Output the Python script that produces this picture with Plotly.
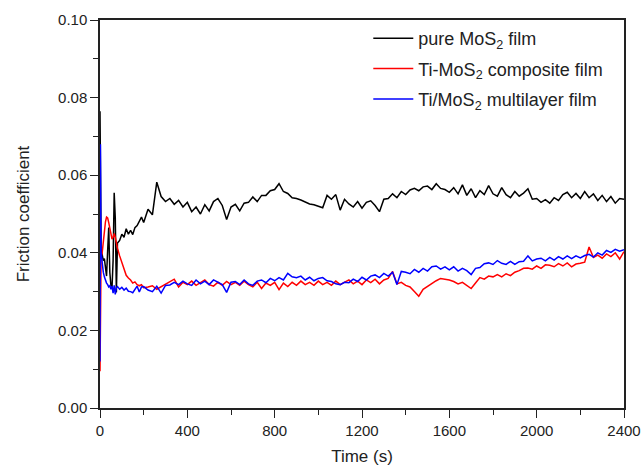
import plotly.graph_objects as go

time_s = [0, 2, 5, 10, 15, 20, 25, 30, 35, 40, 45, 50, 55, 60, 65, 70, 75, 80, 90, 100,
          110, 120, 130, 140, 150, 160, 170, 180, 190, 200,
          220, 240, 260, 280, 300, 320, 340, 360, 380, 400,
          420, 440, 460, 480, 500, 520, 540, 560, 580, 600,
          620, 640, 660, 680, 700, 720, 740, 760, 780, 800,
          820, 840, 860, 880, 900, 920, 940, 960, 980, 1000,
          1020, 1040, 1060, 1080, 1100, 1120, 1140, 1160, 1180, 1200,
          1220, 1240, 1260, 1280, 1300, 1320, 1340, 1360, 1380, 1400,
          1420, 1440, 1460, 1480, 1500, 1520, 1540, 1560, 1580, 1600,
          1620, 1640, 1660, 1680, 1700, 1720, 1740, 1760, 1780, 1800,
          1820, 1840, 1860, 1880, 1900, 1920, 1940, 1960, 1980, 2000,
          2020, 2040, 2060, 2080, 2100, 2120, 2140, 2160, 2180, 2200,
          2220, 2240, 2260, 2280, 2300, 2320, 2340, 2360, 2380, 2400]

pure_mos2 = [0.0765, 0.0500, 0.0410, 0.0395, 0.0380, 0.0385, 0.0360, 0.0340, 0.0405, 0.0465,
             0.0350, 0.0315, 0.0310, 0.0380, 0.0555, 0.0490, 0.0298, 0.0425, 0.0432, 0.0448,
             0.0440, 0.0462, 0.0448, 0.0458, 0.0447, 0.0465, 0.0470, 0.0480, 0.0492, 0.0478,
             0.0512, 0.0498, 0.0582, 0.0545, 0.0532, 0.0540, 0.0525, 0.0535, 0.0518, 0.0530,
             0.0506, 0.0518, 0.0500, 0.0524, 0.0508, 0.0532, 0.0540, 0.0522, 0.0486, 0.0518,
             0.0525, 0.0508, 0.0528, 0.0530, 0.0544, 0.0532, 0.0548, 0.0548, 0.0560, 0.0563,
             0.0578, 0.0558, 0.0553, 0.0542, 0.0540, 0.0536, 0.0530, 0.0526, 0.0524, 0.0520,
             0.0516, 0.0548, 0.0538, 0.0550, 0.0510, 0.0538, 0.0526, 0.0518, 0.0532, 0.0515,
             0.0530, 0.0534, 0.0522, 0.0506, 0.0538, 0.0540, 0.0552, 0.0542, 0.0558, 0.0550,
             0.0562, 0.0566, 0.0560, 0.0570, 0.0572, 0.0563, 0.0578, 0.0566, 0.0563, 0.0556,
             0.0568, 0.0552, 0.0575, 0.0548, 0.0565, 0.0542, 0.0560, 0.0550, 0.0573, 0.0552,
             0.0546, 0.0568, 0.0550, 0.0542, 0.0558, 0.0546, 0.0554, 0.0565, 0.0538, 0.0540,
             0.0530, 0.0537, 0.0528, 0.0542, 0.0535, 0.0550, 0.0556, 0.0542, 0.0553, 0.0540,
             0.0558, 0.0542, 0.0552, 0.0535, 0.0548, 0.0532, 0.0545, 0.0528, 0.0540, 0.0538]

ti_mos2_composite = [0.0095, 0.0360, 0.0390, 0.0400, 0.0430, 0.0460, 0.0480, 0.0492, 0.0490, 0.0478,
                     0.0460, 0.0445, 0.0435, 0.0440, 0.0450, 0.0440, 0.0425, 0.0412, 0.0392, 0.0375,
                     0.0355, 0.0342, 0.0335, 0.0330, 0.0322, 0.0325, 0.0318, 0.0315, 0.0318, 0.0310,
                     0.0312, 0.0315, 0.0306, 0.0312, 0.0318, 0.0326, 0.0332, 0.0312, 0.0324, 0.0318,
                     0.0327, 0.0316, 0.0324, 0.0330, 0.0318, 0.0314, 0.0324, 0.0316, 0.0326, 0.0318,
                     0.0324, 0.0316, 0.0327, 0.0318, 0.0312, 0.0324, 0.0308, 0.0322, 0.0316, 0.0324,
                     0.0305, 0.0322, 0.0313, 0.0324, 0.0316, 0.0327, 0.0318, 0.0324, 0.0316, 0.0327,
                     0.0318, 0.0324, 0.0316, 0.0327, 0.0318, 0.0324, 0.0330, 0.0320, 0.0327, 0.0318,
                     0.0330, 0.0323, 0.0332, 0.0320, 0.0330, 0.0334, 0.0352, 0.0320, 0.0324, 0.0316,
                     0.0312, 0.0300, 0.0288, 0.0306, 0.0314, 0.0322, 0.0328, 0.0334, 0.0332, 0.0330,
                     0.0326, 0.0320, 0.0324, 0.0316, 0.0308, 0.0322, 0.0336, 0.0332, 0.0340, 0.0338,
                     0.0344, 0.0338, 0.0346, 0.0341, 0.0350, 0.0354, 0.0360, 0.0361, 0.0358, 0.0366,
                     0.0360, 0.0369, 0.0368, 0.0364, 0.0372, 0.0366, 0.0374, 0.0364, 0.0371, 0.0373,
                     0.0376, 0.0415, 0.0388, 0.0394, 0.0386, 0.0397, 0.0390, 0.0400, 0.0384, 0.0403]

ti_mos2_multilayer = [0.0120, 0.0680, 0.0400, 0.0365, 0.0350, 0.0338, 0.0328, 0.0322, 0.0318, 0.0312,
                      0.0315, 0.0306, 0.0314, 0.0296, 0.0316, 0.0293, 0.0310, 0.0313, 0.0306, 0.0311,
                      0.0304, 0.0309, 0.0301, 0.0300, 0.0297, 0.0306, 0.0314, 0.0299, 0.0312, 0.0313,
                      0.0304, 0.0300, 0.0314, 0.0296, 0.0316, 0.0317, 0.0324, 0.0318, 0.0327, 0.0320,
                      0.0316, 0.0330, 0.0320, 0.0327, 0.0318, 0.0330, 0.0323, 0.0318, 0.0298, 0.0324,
                      0.0326, 0.0318, 0.0330, 0.0320, 0.0316, 0.0327, 0.0330, 0.0323, 0.0334, 0.0328,
                      0.0336, 0.0330, 0.0347, 0.0338, 0.0336, 0.0340, 0.0330, 0.0337, 0.0328, 0.0334,
                      0.0336, 0.0328, 0.0326, 0.0320, 0.0318, 0.0324, 0.0323, 0.0332, 0.0326, 0.0337,
                      0.0330, 0.0340, 0.0343, 0.0336, 0.0347, 0.0340, 0.0350, 0.0318, 0.0352, 0.0350,
                      0.0346, 0.0357, 0.0350, 0.0360, 0.0353, 0.0364, 0.0366, 0.0358, 0.0364, 0.0356,
                      0.0364, 0.0353, 0.0360, 0.0354, 0.0344, 0.0360, 0.0362, 0.0372, 0.0374, 0.0370,
                      0.0380, 0.0373, 0.0370, 0.0378, 0.0370, 0.0377, 0.0378, 0.0392, 0.0379, 0.0384,
                      0.0386, 0.0379, 0.0388, 0.0381, 0.0390, 0.0384, 0.0392, 0.0385, 0.0392, 0.0387,
                      0.0393, 0.0396, 0.0389, 0.0400, 0.0394, 0.0406, 0.0401, 0.0409, 0.0404, 0.0408]

series_names = ["pure MoS<sub>2</sub> film",
                "Ti-MoS<sub>2</sub> composite film",
                "Ti/MoS<sub>2</sub> multilayer film"]
series_values = [pure_mos2, ti_mos2_composite, ti_mos2_multilayer]
series_colors = ["#000000", "#ff0000", "#0000ff"]

x_ticks = [0, 400, 800, 1200, 1600, 2000, 2400]
y_ticks = [0.00, 0.02, 0.04, 0.06, 0.08, 0.10]

fig = go.Figure()
for i, (name, vals, col) in enumerate(zip(series_names, series_values, series_colors)):
    fig.add_trace(go.Scatter(x=time_s, y=vals, mode="lines", name=name,
                             legendgroup=str(i),
                             line=dict(color=col, width=1.5)))

font_family = "Liberation Sans, Arial, sans-serif"
axis_common = dict(showline=True, linecolor="#222222", linewidth=1.5, mirror=True,
                   ticks="outside", ticklen=8, tickwidth=1.3, tickcolor="#222222",
                   showgrid=False, zeroline=False, automargin=False,
                   tickfont=dict(family=font_family, size=15, color="#222222"))

fig.update_layout(
    width=641, height=466,
    margin=dict(l=100, r=17, t=20, b=58),
    paper_bgcolor="white", plot_bgcolor="white",
    font=dict(family=font_family, color="#222222"),
    showlegend=True,
    legend=dict(x=0.512, y=1.0, xanchor="left", yanchor="top",
                bgcolor="rgba(0,0,0,0)", borderwidth=0,
                font=dict(family=font_family, size=18, color="#222222"),
                traceorder="grouped", tracegroupgap=4, itemwidth=40),
    xaxis=dict(range=[0, 2400], tickvals=x_ticks,
               ticktext=[str(v) for v in x_ticks],
               minor=dict(ticks="outside", ticklen=5, tickwidth=1.3, tickcolor="#222222", dtick=200, tick0=0),
               title=dict(text="Time (s)", font=dict(family=font_family, size=17, color="#222222"), standoff=12),
               **axis_common),
    yaxis=dict(range=[0, 0.10], tickvals=y_ticks,
               ticktext=[f"{v:.2f}" for v in y_ticks],
               minor=dict(ticks="outside", ticklen=5, tickwidth=1.3, tickcolor="#222222", dtick=0.01, tick0=0),
               title=dict(text="Friction coefficient", font=dict(family=font_family, size=17, color="#222222"), standoff=24),
               **axis_common),
)

fig.write_html("out.html")
